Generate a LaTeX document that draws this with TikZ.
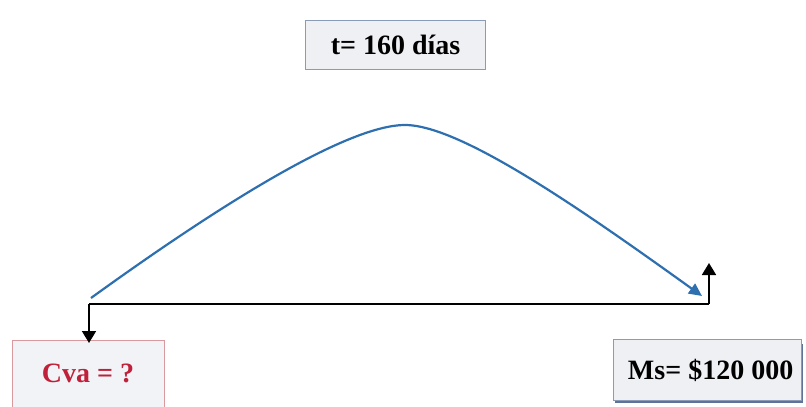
\documentclass[tikz,border=0pt]{standalone}
\usepackage{fontspec}
\setmainfont{Liberation Serif}
\usetikzlibrary{arrows.meta}
\definecolor{boxfill}{HTML}{EEF0F4}
\definecolor{boxline}{HTML}{8A9BB8}
\definecolor{shadowc}{HTML}{5F7398}
\definecolor{redline}{HTML}{D89A9E}
\definecolor{redtext}{HTML}{C0203A}
\definecolor{curveblue}{HTML}{2E6FB0}
\tikzset{
  infobox/.style={draw=boxline, line width=1.2pt, fill=boxfill, inner sep=0pt, anchor=north west},
  redbox/.style={draw=redline, line width=1.2pt, fill=boxfill!80!white, inner sep=0pt, anchor=north west},
  lbl/.style={font=\fontsize{28}{32}\selectfont\bfseries},
  conn/.style={line width=1.8pt, black},
  arr/.style={conn, -{Triangle[length=12pt, width=14pt]}},
}
\begin{document}
\begin{tikzpicture}[x=1pt, y=-1pt]
\useasboundingbox (0,0) rectangle (806,407);
% top box
\node[infobox, minimum width=180pt, minimum height=49pt] (tbox) at (305,20) {};
\node[lbl] (tlbl) at (tbox.center) {t= 160 días};
% Cva box
\node[redbox, minimum width=152pt, minimum height=80pt] (cbox) at (12,340) {};
\node[lbl, text=redtext] (clbl) at (88,373) {Cva = ?};
% Ms box shadow and box
\fill[shadowc] (615,344) rectangle (803,403);
\node[infobox, minimum width=188pt, minimum height=61pt] (mbox) at (613,339) {};
\node[lbl] (mlbl) at ([xshift=3pt]mbox.center) {Ms= \$120 000};
% timeline
\coordinate (L) at (89,304);
\coordinate (R) at (709,304);
\coordinate (Ltip) at (89,343);
\coordinate (Rtip) at (709,263);
\draw[conn] (L) -- (R);
\draw[arr] (L) -- (Ltip);
\draw[arr] (R) -- (Rtip);
% curve
\coordinate (cs) at (91,298);
\coordinate (top) at (405,125);
\coordinate (ce) at (702,296);
\draw[line width=2.2pt, curveblue, -{Triangle[length=13pt, width=12pt]}]
  (cs) .. controls (210,212) and (345,125) .. (top)
       .. controls (462,125) and (589,215) .. (ce);
\end{tikzpicture}
\end{document}
